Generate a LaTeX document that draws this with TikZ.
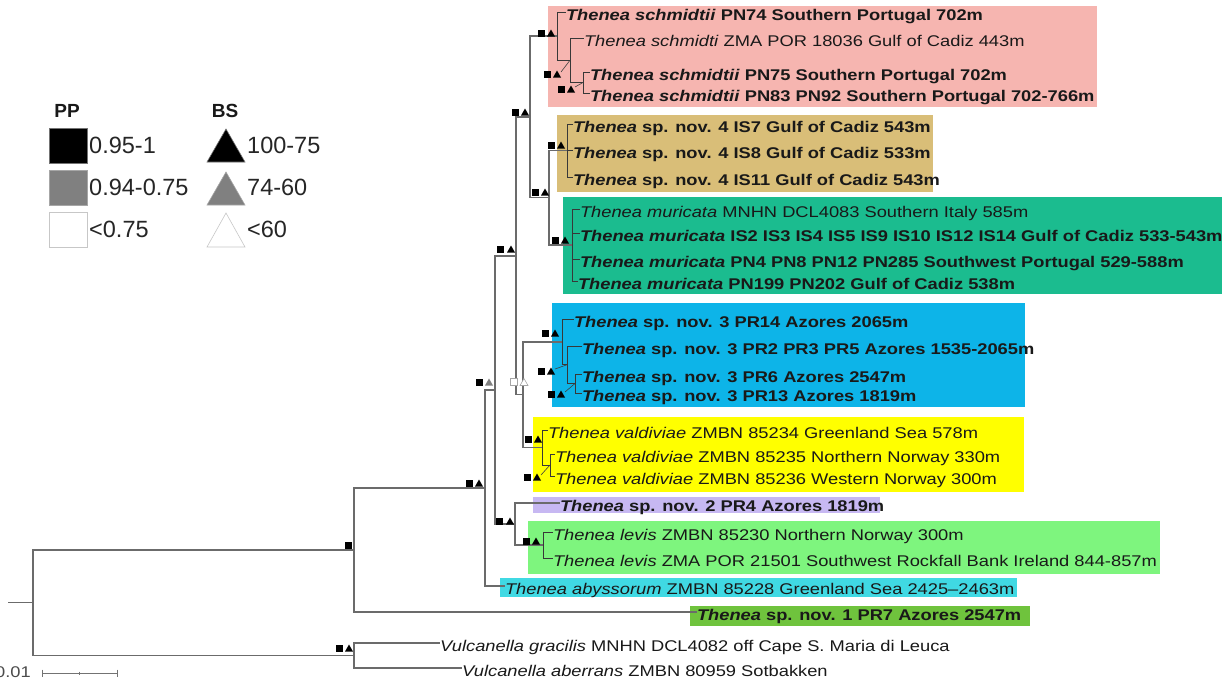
\documentclass[tikz,border=0pt]{standalone}
\usepackage{fontspec}
\setmainfont{Liberation Sans}[FakeStretch=1.18]
\newfontfamily\legfont{Liberation Sans}
\usetikzlibrary{calc}
\definecolor{cPink}{HTML}{F6B5B0}
\definecolor{cTan}{HTML}{D9BE78}
\definecolor{cTeal}{HTML}{1BBC8F}
\definecolor{cBlue}{HTML}{0DB4E8}
\definecolor{cYellow}{HTML}{FFFF00}
\definecolor{cLav}{HTML}{C7B8F2}
\definecolor{cLGreen}{HTML}{7EF57E}
\definecolor{cCyan}{HTML}{40D9E3}
\definecolor{cGreen}{HTML}{6FC33D}
\tikzset{
  br/.style={draw=black!58, line width=1.4pt},
  cl/.style={draw=black!78, line width=0.9pt},
  lead/.style={draw=black!75, line width=0.6pt},
  leaf/.style={anchor=west, inner sep=0pt, outer sep=0pt, text height=17pt, text depth=0pt,
    font=\fontsize{15.5}{18}\selectfont, text=black!90},
  legh/.style={inner sep=0pt, font=\legfont\bfseries\fontsize{19}{22}\selectfont, text=black!90},
  legt/.style={anchor=west, inner sep=0pt, font=\legfont\fontsize{23.5}{26}\selectfont, text=black!85},
  sbar/.style={draw=black!55, line width=1pt}
}
\newcommand\sqm[3]{\fill[#3] (#1-3.5,#2-3.5) rectangle (#1+3.5,#2+3.5);}
\newcommand\trm[3]{\fill[#3] (#1-4,#2+3.5) -- (#1+4,#2+3.5) -- (#1,#2-3.5) -- cycle;}
\newcommand\mkb[3]{\sqm{#1}{#3}{black}\trm{#2}{#3}{black}}
\begin{document}
\begin{tikzpicture}[x=1pt,y=-1pt]
\useasboundingbox (0,0) rectangle (1222,681);
\fill[white] (0,0) rectangle (1222,681);
% coloured boxes
\fill[cPink] (548,6) rectangle (1097,107);
\fill[cTan] (557,115) rectangle (933,192);
\fill[cTeal] (563,197) rectangle (1222,294);
\fill[cBlue] (552,303) rectangle (1025,407);
\fill[cYellow] (533,417) rectangle (1024,492);
\fill[cLav] (533,497) rectangle (880,513);
\fill[cLGreen] (528,521) rectangle (1160,574);
\fill[cCyan] (500,578) rectangle (1017,597);
\fill[cGreen] (690,606) rectangle (1030,626);
% leaves
\node[leaf] (l1) at (566,12) {\textbf{\textit{Thenea schmidtii} PN74 Southern Portugal 702m}};
\node[leaf] (l2) at (584,38) {\textit{Thenea schmidti} ZMA POR 18036 Gulf of Cadiz 443m};
\node[leaf] (l3) at (590,72) {\textbf{\textit{Thenea schmidtii} PN75 Southern Portugal 702m}};
\node[leaf] (l4) at (590,93) {\textbf{\textit{Thenea schmidtii} PN83 PN92 Southern Portugal 702-766m}};
\node[leaf] (l5) at (573,124) {\textbf{\textit{Thenea} sp. nov. 4 IS7 Gulf of Cadiz 543m}};
\node[leaf] (l6) at (573,150) {\textbf{\textit{Thenea} sp. nov. 4 IS8 Gulf of Cadiz 533m}};
\node[leaf] (l7) at (573,177) {\textbf{\textit{Thenea} sp. nov. 4 IS11 Gulf of Cadiz 543m}};
\node[leaf] (l8) at (580,209) {\textit{Thenea muricata} MNHN DCL4083 Southern Italy 585m};
\node[leaf] (l9) at (580,233) {\textbf{\textit{Thenea muricata} IS2 IS3 IS4 IS5 IS9 IS10 IS12 IS14 Gulf of Cadiz 533-543m}};
\node[leaf] (l10) at (580,259) {\textbf{\textit{Thenea muricata} PN4 PN8 PN12 PN285 Southwest Portugal 529-588m}};
\node[leaf] (l11) at (578,281) {\textbf{\textit{Thenea muricata} PN199 PN202 Gulf of Cadiz 538m}};
\node[leaf] (l12) at (574,319) {\textbf{\textit{Thenea} sp. nov. 3 PR14 Azores 2065m}};
\node[leaf] (l13) at (582,346) {\textbf{\textit{Thenea} sp. nov. 3 PR2 PR3 PR5 Azores 1535-2065m}};
\node[leaf] (l14) at (582,374) {\textbf{\textit{Thenea} sp. nov. 3 PR6 Azores 2547m}};
\node[leaf] (l15) at (582,393) {\textbf{\textit{Thenea} sp. nov. 3 PR13 Azores 1819m}};
\node[leaf] (l16) at (548,430) {\textit{Thenea valdiviae} ZMBN 85234 Greenland Sea 578m};
\node[leaf] (l17) at (555,454) {\textit{Thenea valdiviae} ZMBN 85235 Northern Norway 330m};
\node[leaf] (l18) at (555,476) {\textit{Thenea valdiviae} ZMBN 85236 Western Norway 300m};
\node[leaf] (l19) at (560,503) {\textbf{\textit{Thenea} sp. nov. 2 PR4 Azores 1819m}};
\node[leaf] (l20) at (553,532) {\textit{Thenea levis} ZMBN 85230 Northern Norway 300m};
\node[leaf] (l21) at (553,558) {\textit{Thenea levis} ZMA POR 21501 Southwest Rockfall Bank Ireland 844-857m};
\node[leaf] (l22) at (505,586) {\textit{Thenea abyssorum} ZMBN 85228 Greenland Sea 2425–2463m};
\node[leaf] (l23) at (697,612) {\textbf{\textit{Thenea} sp. nov. 1 PR7 Azores 2547m}};
\node[leaf] (l24) at (440,643) {\textit{Vulcanella gracilis} MNHN DCL4082 off Cape S. Maria di Leuca};
\node[leaf] (l25) at (462,668) {\textit{Vulcanella aberrans} ZMBN 80959 Sotbakken};
% internal nodes
\coordinate (r0) at (8,602.75);
\coordinate (R) at (33,602.75);
\coordinate (U) at (354,550);
\coordinate (V) at (354,655.5);
\coordinate (A) at (485,487.9);
\coordinate (B) at (495,389.9);
\coordinate (C) at (516,255.8);
\coordinate (E) at (515,524);
\coordinate (L) at (543,545);
\coordinate (P) at (530,116.9);
\coordinate (D) at (523,394.7);
\coordinate (X) at (549,197.75);
\coordinate (S1) at (557,36.1);
\coordinate (S2) at (570,60.25);
\coordinate (S3) at (583,82.5);
\coordinate (N4) at (567,150.5);
\coordinate (M) at (572,245);
\coordinate (N3a) at (562,341.9);
\coordinate (N3b) at (567,364.75);
\coordinate (N3c) at (575,383.5);
\coordinate (Va) at (542,447.5);
\coordinate (Vb) at (550,465);
% main branches
\draw[br] (r0) -- (R);
\draw[br] (R) |- (U);
\draw[br] (R) |- (V);
\draw[br] (U) |- (A);
\draw[br] (U) |- (l23.west);
\draw[br] (V) |- (l24.west);
\draw[br] (V) |- (l25.west);
\draw[br] (A) |- (B);
\draw[br] (A) |- (l22.west);
\draw[br] (B) |- (C);
\draw[br] (B) |- (E);
\draw[br] (C) |- (P);
\draw[br] (C) |- (D);
\draw[br] (P) |- (S1);
\draw[br] (P) |- (X);
\draw[br] (X) |- (N4);
\draw[br] (X) |- (M);
\draw[br] (D) |- (N3a);
\draw[br] (D) |- (Va);
\draw[br] (E) |- (l19.west);
\draw[br] (E) |- (L);
% clade branches
\draw[cl] (S1) |- (l1.west);
\draw[cl] (S1) |- (S2);
\draw[cl] (S2) |- (l2.west);
\draw[cl] (S2) |- (S3);
\draw[cl] (S3) |- (l3.west);
\draw[cl] (S3) |- (l4.west);
\draw[cl] (N4) |- (l5.west);
\draw[cl] (N4) |- (l6.west);
\draw[cl] (N4) |- (l7.west);
\draw[cl] (M) |- (l8.west);
\draw[cl] (M) |- (l9.west);
\draw[cl] (M) |- (l10.west);
\draw[cl] (M) |- (l11.west);
\draw[cl] (N3a) |- (l12.west);
\draw[cl] (N3a) |- (N3b);
\draw[cl] (N3b) |- (l13.west);
\draw[cl] (N3b) |- (N3c);
\draw[cl] (N3c) |- (l14.west);
\draw[cl] (N3c) |- (l15.west);
\draw[cl] (Va) |- (l16.west);
\draw[cl] (Va) |- (Vb);
\draw[cl] (Vb) |- (l17.west);
\draw[cl] (Vb) |- (l18.west);
\draw[cl] (L) |- (l20.west);
\draw[cl] (L) |- (l21.west);
% leader lines
\coordinate (q1) at (561,72);
\coordinate (q2) at (575,87);
\coordinate (q3) at (555,369);
\coordinate (q4) at (565,392);
\coordinate (q5) at (541,475);
\draw[lead] (q1) -- (S2);
\draw[lead] (q2) -- (S3);
\draw[lead] (q3) -- (N3b);
\draw[lead] (q4) -- (N3c);
\draw[lead] (q5) -- (Vb);
% support markers
\sqm{348}{545}{black}
\mkb{339}{349}{648}
\mkb{469}{479}{483}
\sqm{479}{382}{black}\trm{489}{382}{black!50}
\mkb{500}{511}{249}
\mkb{515}{525}{112}
\mkb{541}{551}{33}
\mkb{547}{557}{74}
\mkb{561}{571}{89}
\mkb{535}{545}{192}
\mkb{551}{561}{145}
\mkb{555}{565}{240}
\sqm{514}{382}{fill=white,draw=black!35,line width=0.6pt}\trm{524}{382}{fill=white,draw=black!35,line width=0.6pt}
\mkb{545}{555}{333}
\mkb{541}{551}{371}
\mkb{551}{561}{394}
\mkb{528}{538}{439}
\mkb{527}{537}{477}
\mkb{499}{510}{521}
\mkb{526}{536}{541}
% legend
\node[legh] (pp) at (67,111) {PP};
\node[legh] (bs) at (225,111) {BS};
\filldraw[fill=black, draw=black!55, line width=0.6pt] (49,128) rectangle (87,163);
\filldraw[fill=black!50, draw=black!35, line width=0.6pt] (49,170) rectangle (87,205);
\filldraw[fill=white, draw=black!22, line width=0.6pt] (49,212) rectangle (87,247);
\filldraw[fill=black, draw=black!55, line width=0.6pt] (207,162) -- (245,162) -- (226,129) -- cycle;
\filldraw[fill=black!50, draw=black!35, line width=0.6pt] (207,205) -- (245,205) -- (226,172) -- cycle;
\filldraw[fill=white, draw=black!22, line width=0.6pt] (207,247) -- (245,247) -- (226,213) -- cycle;
\node[legt] (t1) at (89,145) {0.95-1};
\node[legt] (t2) at (89,187) {0.94-0.75};
\node[legt] (t3) at (89,229) {<0.75};
\node[legt] (t4) at (247,145) {100-75};
\node[legt] (t5) at (247,187) {74-60};
\node[legt] (t6) at (247,229) {<60};
% scale bar
\coordinate (sb1) at (42,673);
\coordinate (sb2) at (117,673);
\draw[sbar] (sb1) -- (sb2);
\draw[sbar] (42,669.5) -- (42,676.5);
\draw[sbar] (117,669.5) -- (117,676.5);
\draw[sbar] (79.5,671.5) -- (79.5,674.5);
\node[anchor=east, inner sep=0pt, font=\fontsize{15.5}{18}\selectfont, text=black!70] (sbl) at (31,672) {0.01};
\end{tikzpicture}
\end{document}
